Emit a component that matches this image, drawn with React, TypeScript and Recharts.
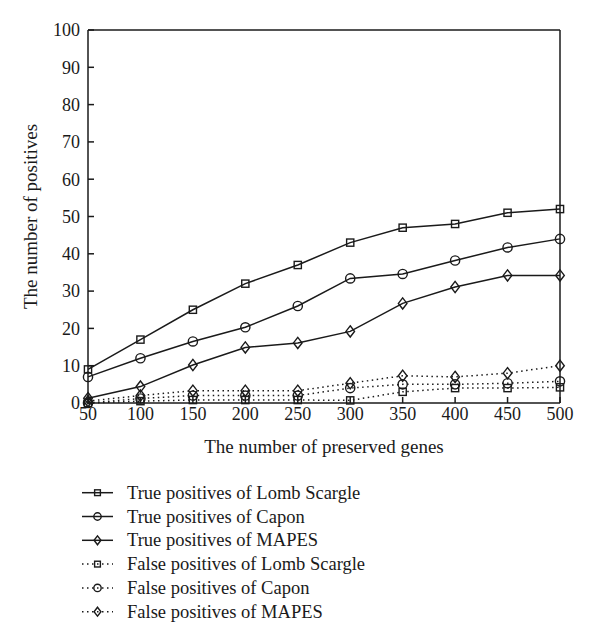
import React from 'react';
import { LineChart, Line, XAxis, YAxis } from 'recharts';

const INK = '#1a1a1a';

const genes = [50, 100, 150, 200, 250, 300, 350, 400, 450, 500];
const yTicks = [0, 10, 20, 30, 40, 50, 60, 70, 80, 90, 100];

const tpLomb = [9, 17, 25, 32, 37, 43, 47, 48, 51, 52];
const tpCapon = [7, 12, 16.5, 20.3, 26, 33.4, 34.6, 38.2, 41.7, 44];
const tpMapes = [1.3, 4.4, 10.2, 14.9, 16.1, 19.2, 26.7, 31.1, 34.2, 34.2];
const fpLomb = [0, 0.5, 0.8, 0.8, 0.8, 0.7, 3, 4, 4, 4.2];
const fpCapon = [0, 1.2, 2, 2, 2, 4, 5, 5, 5.3, 5.8];
const fpMapes = [0.5, 2, 3.3, 3.3, 3.3, 5.3, 7.3, 7, 8, 10];

type Shape = 'square' | 'circle' | 'diamond';

const series: { key: string; name: string; values: number[]; shape: Shape; dotted: boolean }[] = [
  { key: 'tpLomb', name: 'True positives of Lomb Scargle', values: tpLomb, shape: 'square', dotted: false },
  { key: 'tpCapon', name: 'True positives of Capon', values: tpCapon, shape: 'circle', dotted: false },
  { key: 'tpMapes', name: 'True positives of MAPES', values: tpMapes, shape: 'diamond', dotted: false },
  { key: 'fpLomb', name: 'False positives of Lomb Scargle', values: fpLomb, shape: 'square', dotted: true },
  { key: 'fpCapon', name: 'False positives of Capon', values: fpCapon, shape: 'circle', dotted: true },
  { key: 'fpMapes', name: 'False positives of MAPES', values: fpMapes, shape: 'diamond', dotted: true },
];

const data = genes.map((g, i) => {
  const row: Record<string, number> = { genes: g };
  series.forEach((s) => (row[s.key] = s.values[i]));
  return row;
});

function Marker({ shape, cx, cy, k = 1 }: { shape: Shape; cx: number; cy: number; k?: number }) {
  const common = { fill: 'none', stroke: INK, strokeWidth: 1.4 };
  if (shape === 'square') {
    const h = 3.6 * k;
    return <rect x={cx - h} y={cy - h} width={h * 2} height={h * 2} {...common} />;
  }
  if (shape === 'circle') {
    return <circle cx={cx} cy={cy} r={4.6 * k} {...common} />;
  }
  const w = 4.3 * k;
  const h = 5.6 * k;
  return <path d={`M${cx},${cy - h}L${cx + w},${cy}L${cx},${cy + h}L${cx - w},${cy}Z`} {...common} />;
}

const DASH = '1.5 3.5';

function ChartLegend() {
  return (
    <svg width={600} height={160} style={{ position: 'absolute', left: 0, top: 470 }}>
      {series.map((s, i) => {
        const y = 22.7 + i * 23.8;
        return (
          <g key={s.key}>
            <line x1={82} x2={113} y1={y} y2={y} stroke={INK} strokeWidth={1.5} strokeDasharray={s.dotted ? DASH : undefined} />
            <Marker shape={s.shape} cx={97.5} cy={y} k={0.8} />
            <text x={127} y={y + 6} fontSize={18.5} fill={INK}>
              {s.name}
            </text>
          </g>
        );
      })}
    </svg>
  );
}

export default function App() {
  return (
    <div
      style={{
        position: 'absolute',
        left: 0,
        top: 0,
        width: 600,
        height: 644,
        background: '#fff',
        fontFamily: '"Liberation Serif", "Times New Roman", serif',
      }}
    >
      <LineChart width={600} height={644} data={data} margin={{ top: 30, right: 40, bottom: 186, left: 0 }}>
        <XAxis
          xAxisId="b"
          dataKey="genes"
          type="number"
          domain={[50, 500]}
          ticks={genes}
          height={55}
          tickSize={-6}
          tickMargin={10}
          stroke={INK}
          strokeWidth={1.5}
          tick={{ fill: INK, fontSize: 18 }}
          label={{ value: 'The number of preserved genes', position: 'insideBottom', offset: 5, fill: INK, fontSize: 19 }}
        />
        <XAxis
          xAxisId="t"
          orientation="top"
          dataKey="genes"
          type="number"
          domain={[50, 500]}
          ticks={genes}
          mirror
          tick={false}
          tickSize={6}
          stroke={INK}
          strokeWidth={1.5}
        />
        <YAxis
          yAxisId="l"
          type="number"
          domain={[0, 100]}
          ticks={yTicks}
          width={88}
          tickSize={-6}
          tickMargin={14}
          stroke={INK}
          strokeWidth={1.5}
          tick={{ fill: INK, fontSize: 18 }}
          label={{ value: 'The number of positives', angle: -90, position: 'center', dx: -14, fill: INK, fontSize: 19 }}
        />
        <YAxis
          yAxisId="r"
          orientation="right"
          type="number"
          domain={[0, 100]}
          ticks={yTicks}
          mirror
          tick={false}
          tickSize={6}
          stroke={INK}
          strokeWidth={1.5}
        />
        {series.map((s) => (
          <Line
            key={s.key}
            xAxisId="b"
            yAxisId="l"
            dataKey={s.key}
            type="linear"
            stroke={INK}
            strokeWidth={1.5}
            strokeDasharray={s.dotted ? DASH : undefined}
            isAnimationActive={false}
            dot={(p: any) => (
              <g key={`${s.key}-${p.index}`}>
                <Marker shape={s.shape} cx={p.cx} cy={p.cy} />
              </g>
            )}
            activeDot={false}
          />
        ))}
      </LineChart>
      <ChartLegend />
    </div>
  );
}
